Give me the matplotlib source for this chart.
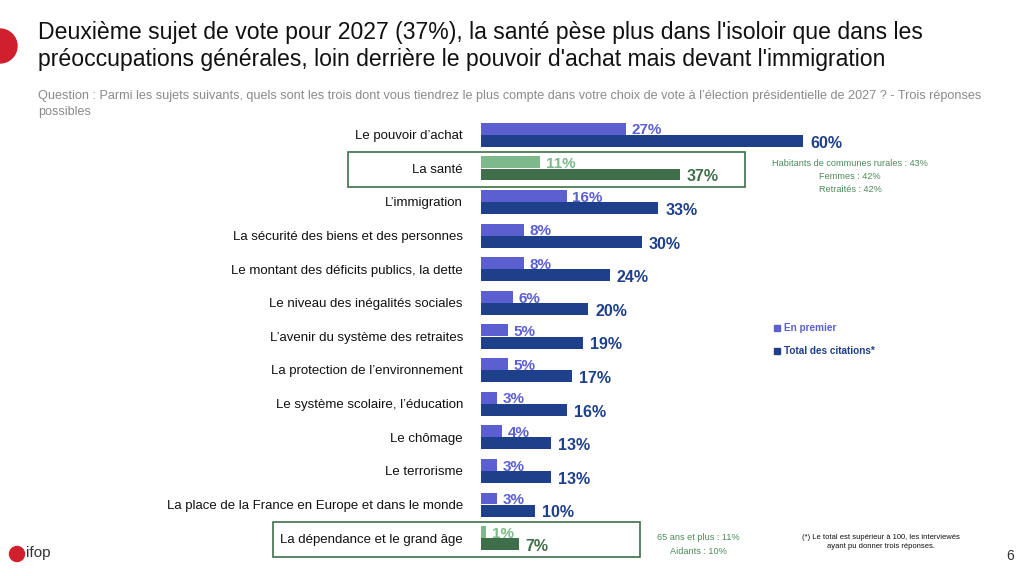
import matplotlib
matplotlib.use("Agg")
import matplotlib.pyplot as plt
from matplotlib.patches import Rectangle, Ellipse
from matplotlib.lines import Line2D

plt.rcParams['font.family'] = ['Liberation Sans', 'DejaVu Sans']

categories = [
    "Le pouvoir d’achat",
    "La santé",
    "L’immigration",
    "La sécurité des biens et des personnes",
    "Le montant des déficits publics, la dette",
    "Le niveau des inégalités sociales",
    "L’avenir du système des retraites",
    "La protection de l’environnement",
    "Le système scolaire, l’éducation",
    "Le chômage",
    "Le terrorisme",
    "La place de la France en Europe et dans le monde",
    "La dépendance et le grand âge",
]
en_premier = [27, 11, 16, 8, 8, 6, 5, 5, 3, 4, 3, 3, 1]
total_citations = [60, 37, 33, 30, 24, 20, 19, 17, 16, 13, 13, 10, 7]
highlighted = ["La santé", "La dépendance et le grand âge"]
series_labels = ["En premier", "Total des citations*"]

title = ("Deuxième sujet de vote pour 2027 (37%), la santé pèse plus dans l'isoloir que dans les\n"
         "préoccupations générales, loin derrière le pouvoir d'achat mais devant l'immigration")
question = ("Question : Parmi les sujets suivants, quels sont les trois dont vous tiendrez le plus compte "
            "dans votre choix de vote à l’élection présidentielle de 2027 ? - Trois réponses\npossibles")
note_sante = ["Habitants de communes rurales : 43%", "Femmes : 42%", "Retraités : 42%"]
note_dep = ["65 ans et plus : 11%", "Aidants : 10%"]
footnote = "(*) Le total est supérieur à 100, les interviewés\nayant pu donner trois réponses."

C_LIGHT = "#5B5FD0"
C_DARK = "#1E3F8A"
G_LIGHT = "#7DB98A"
G_DARK = "#3E6F4A"
G_TEXT = "#4E8A5A"

W, H = 1024, 576
fig = plt.figure(figsize=(W / 100, H / 100), dpi=100)
fig.patch.set_facecolor("white")

def fx(px):
    return px / W

def fy(py):
    return 1 - py / H

# axes: x from px 481 to 1024, y from px 118 to 555
ax_left, ax_top, ax_bot = 481, 118, 555
ax = fig.add_axes([fx(ax_left), fy(ax_bot), fx(W - ax_left), (ax_bot - ax_top) / H])
ax.set_xlim(0, (W - ax_left) / 5.37)
ax.set_ylim(len(categories) - 0.5, -0.5)
ax.axis("off")

bh = 0.355
off = 0.18
ys = list(range(len(categories)))
lc = [G_LIGHT if c in highlighted else C_LIGHT for c in categories]
dc = [G_DARK if c in highlighted else C_DARK for c in categories]
ax.barh([y - off for y in ys], en_premier, height=bh, color=lc, label=series_labels[0])
ax.barh([y + off for y in ys], total_citations, height=bh, color=dc, label=series_labels[1])

for y, c, p, t, l, d in zip(ys, categories, en_premier, total_citations, lc, dc):
    ax.annotate(f"{p}%", (p, y - off + 0.05), xytext=(4, 0), textcoords="offset points",
                ha="left", va="center", fontsize=11, fontweight="bold", color=l)
    ax.annotate(f"{t}%", (t, y + off + 0.07), xytext=(5, 0), textcoords="offset points",
                ha="left", va="center", fontsize=11.5, fontweight="bold", color=d)
    ax.annotate(c, (0, y + 0.04), xytext=(-13, 0), textcoords="offset points",
                ha="right", va="center", fontsize=9.5, color="#111111")

# highlight boxes
fig.patches.append(Rectangle((fx(348), fy(187)), fx(745 - 348), (187 - 152) / H,
                             transform=fig.transFigure, fill=False, edgecolor=G_DARK, lw=1.2))
fig.patches.append(Rectangle((fx(273), fy(557)), fx(640 - 273), (557 - 522) / H,
                             transform=fig.transFigure, fill=False, edgecolor=G_DARK, lw=1.2))

# title and question
fig.text(fx(38), fy(21), title, ha="left", va="top", fontsize=16.6, color="#111111", linespacing=1.2)
fig.text(fx(38), fy(90), question, ha="left", va="top", fontsize=9.1, color="#8a8a8a", linespacing=1.45)

# side notes
for i, s in enumerate(note_sante):
    fig.text(fx(850), fy(163 + 13.5 * i), s, ha="center", va="center", fontsize=6.6, color=G_TEXT)
for i, s in enumerate(note_dep):
    fig.text(fx(698), fy(537 + 14 * i), s, ha="center", va="center", fontsize=6.6, color=G_TEXT)
fig.text(fx(881), fy(542), footnote, ha="center", va="center", fontsize=5.5, color="#111111",
         linespacing=1.4)

# legend
handles = [Line2D([], [], marker="s", ls="", color=C_LIGHT, markersize=4.5),
           Line2D([], [], marker="s", ls="", color=C_DARK, markersize=4.5)]
leg = fig.legend(handles, series_labels, loc="upper left", bbox_to_anchor=(fx(765), fy(314)),
                 frameon=False, handlelength=0.6, handletextpad=0.4, labelspacing=1.35,
                 prop={"size": 7.2, "weight": "bold"}, labelcolor=[C_LIGHT, C_DARK])

# decorations
fig.patches.append(Ellipse((fx(0), fy(46)), 34 / W, 34 / H, transform=fig.transFigure,
                           color="#D0202E", clip_on=False))
fig.patches.append(Ellipse((fx(17), fy(554)), 15 / W, 15 / H, transform=fig.transFigure,
                           color="#D0202E", clip_on=False))
fig.text(fx(26), fy(553), "ifop", ha="left", va="center", fontsize=11, color="#333333")
fig.text(fx(1010), fy(556), "6", ha="center", va="center", fontsize=10, color="#333333")

fig.savefig("out.png", dpi=100, facecolor="white")
